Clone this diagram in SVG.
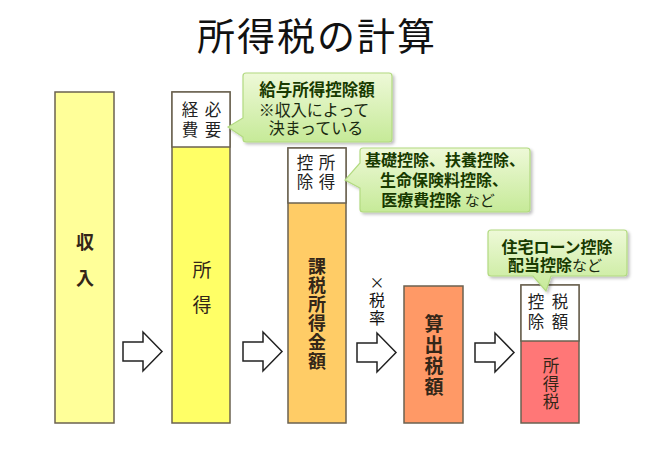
<svg xmlns="http://www.w3.org/2000/svg" width="648" height="466" viewBox="0 0 648 466">
<style>
text{font-family:"Noto Sans CJK JP","Noto Sans",sans-serif;text-anchor:middle}
.title{font-size:38px;fill:#111;letter-spacing:2px}
.bar{stroke:#6B6250;stroke-width:1.5}
.lbl{font-size:18px;fill:#332618}
.b{font-weight:bold}
.top{font-size:16.5px;fill:#222}
.co{fill:url(#g);stroke:#B2DA80;stroke-width:1.2;filter:url(#sh)}
.ct{font-size:16px;fill:#183A00;font-weight:bold}
.cn{font-size:16px;fill:#1a2a10;font-weight:normal}
.arr{fill:#fff;stroke:#222;stroke-width:1.5;stroke-linejoin:miter}
</style>
<defs>
<linearGradient id="g" x1="0" y1="0" x2="0" y2="1">
<stop offset="0" stop-color="#EEF9D8"/>
<stop offset="1" stop-color="#C6EA98"/>
</linearGradient>
<filter id="sh" x="-10%" y="-10%" width="130%" height="130%">
<feDropShadow dx="2" dy="2" stdDeviation="1.5" flood-color="#000" flood-opacity="0.25"/>
</filter>
<path id="ar" d="M0,10 H20 V0 L39,19.5 L20,39 V29 H0 Z"/>
</defs>
<rect width="648" height="466" fill="#fff"/>
<text class="title" x="317" y="50">所得税の計算</text>

<g id="connectors">
<use href="#ar" class="arr" x="123" y="332"/>
<use href="#ar" class="arr" x="243" y="332"/>
<use href="#ar" class="arr" x="357" y="333"/>
<use href="#ar" class="arr" x="475" y="333"/>
<text x="377" y="288" style="font-size:15px;fill:#111">×</text>
<text x="377" y="306" style="font-size:16px;fill:#111">税</text>
<text x="377" y="324" style="font-size:16px;fill:#111">率</text>
</g>

<g id="income">
<rect class="bar" x="55" y="92" width="59" height="331" fill="#FFFF99"/>
<text class="lbl b" x="85" y="249">収</text>
<text class="lbl b" x="85" y="285">入</text>
</g>

<g id="shotoku">
<rect class="bar" x="172" y="92" width="58" height="331" fill="#FFFF66"/>
<rect class="bar" x="172" y="92" width="58" height="55" fill="#fff"/>
<text class="top" x="213" y="116">必</text>
<text class="top" x="213" y="136">要</text>
<text class="top" x="190" y="116">経</text>
<text class="top" x="190" y="136">費</text>
<text class="lbl" x="202" y="277" style="font-size:19px">所</text>
<text class="lbl" x="202" y="312" style="font-size:19px">得</text>
</g>

<g id="kazei">
<rect class="bar" x="288" y="148" width="58" height="275" fill="#FFCC66"/>
<rect class="bar" x="288" y="148" width="58" height="55" fill="#fff"/>
<text class="top" x="327" y="169">所</text>
<text class="top" x="327" y="188">得</text>
<text class="top" x="305" y="169">控</text>
<text class="top" x="305" y="188">除</text>
<text class="lbl b" x="317" y="272.5">課</text>
<text class="lbl b" x="317" y="291.5">税</text>
<text class="lbl b" x="317" y="310.5">所</text>
<text class="lbl b" x="317" y="329.5">得</text>
<text class="lbl b" x="317" y="348.5">金</text>
<text class="lbl b" x="317" y="367.5">額</text>
</g>

<g id="sanshutsu">
<rect class="bar" x="404" y="286" width="59" height="137" fill="#FF9966"/>
<text class="lbl b" x="434" y="330.5" style="font-size:19px">算</text>
<text class="lbl b" x="434" y="351.5" style="font-size:19px">出</text>
<text class="lbl b" x="434" y="372.5" style="font-size:19px">税</text>
<text class="lbl b" x="434" y="393.5" style="font-size:19px">額</text>
</g>

<g id="shotokuzei">
<rect class="bar" x="521" y="285" width="58" height="138" fill="#FF7777"/>
<rect class="bar" x="521" y="285" width="58" height="56" fill="#fff"/>
<text class="top" x="560" y="308">税</text>
<text class="top" x="560" y="328">額</text>
<text class="top" x="536" y="308">控</text>
<text class="top" x="536" y="328">除</text>
<text class="lbl" x="551" y="372" style="font-size:16.5px">所</text>
<text class="lbl" x="551" y="390" style="font-size:16.5px">得</text>
<text class="lbl" x="551" y="408" style="font-size:16.5px">税</text>
</g>

<g id="callout1">
<path class="co" d="M246,73 H389 Q392,73 392,76 V139 Q392,142 389,142 H246 Q243,142 243,139 V137 L228,127 L243,118 V76 Q243,73 246,73 Z"/>
<text class="ct" x="317" y="96" style="font-size:16.5px">給与所得控除額</text>
<text class="cn" x="314" y="116">※収入によって</text>
<text class="cn" x="316" y="134">決まっている</text>
</g>

<g id="callout2">
<path class="co" d="M363,148 H527 Q530,148 530,151 V209 Q530,212 527,212 H363 Q360,212 360,209 V188 L345,180 L360,163 V151 Q360,148 363,148 Z"/>
<text class="ct" x="445" y="166">基礎控除、扶養控除、</text>
<text class="ct" x="444" y="186">生命保険料控除、</text>
<text class="ct" x="438" y="206">医療費控除 <tspan class="cn" style="font-size:15px">など</tspan></text>
</g>

<g id="callout3">
<path class="co" d="M491,230 H624 Q627,230 627,233 V273 Q627,276 624,276 H551 L546,291 L533,276 H491 Q488,276 488,273 V233 Q488,230 491,230 Z"/>
<text class="ct" x="557" y="253">住宅ローン控除</text>
<text class="ct" x="555" y="271">配当控除<tspan class="cn" style="font-size:15px">など</tspan></text>
</g>
</svg>
